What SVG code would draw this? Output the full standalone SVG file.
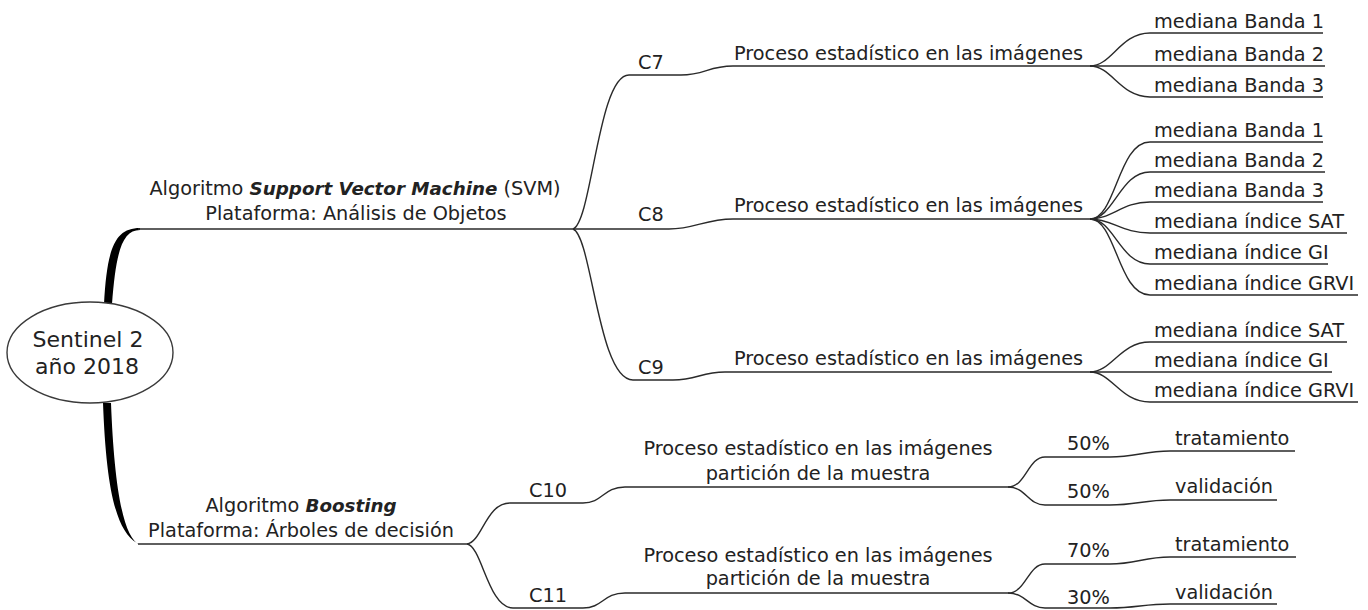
<svg xmlns="http://www.w3.org/2000/svg" width="1368" height="610" viewBox="0 0 1368 610">
<style>
text{font-family:"DejaVu Sans",Verdana,sans-serif;font-size:19.3px;fill:#222}
.c{text-anchor:middle}
.big{font-size:22px}
.bi{font-weight:bold;font-style:italic;font-size:18.3px}
.ln{fill:none;stroke:#2a2a2a;stroke-width:1.4}
.trunk{fill:#000;stroke:none}
</style>
<rect width="1368" height="610" fill="#fff"/>
<g id="connectors">
<path class="trunk" d="M104,304 C107,250 114,228 140,228 L140,230 C122,230 116,252 112,304 Z"/>
<path class="trunk" d="M103,403 C106,480 114,530 137,543 L140,545 C122,538 114,480 111,403 Z"/>
<path class="ln" d="M138,229 L573,229"/>
<path class="ln" d="M138,544 L467,544"/>
<path class="ln" d="M573,229 C592,222 598,75 629,75 L681,75 C705,75 708,66 733,66 L1090,66"/>
<path class="ln" d="M573,229 L669,229 C695,229 705,219 733,219 L1090,219"/>
<path class="ln" d="M573,229 C592,236 598,380 633,380 L673,380 C697,380 701,372 725,372 L1090,372"/>
<path class="ln" d="M467,544 C482,542 486,503 510,503 L583,503 C603,503 603,487 625,487 L1008,487"/>
<path class="ln" d="M467,544 C482,546 488,608 513,608 L583,608 C603,608 603,593 625,593 L1008,593"/>
<path class="ln" d="M1090,66 C1112,66 1120,33 1150,33 L1323,33"/>
<path class="ln" d="M1090,66 L1325,66"/>
<path class="ln" d="M1090,66 C1112,66 1120,97 1150,97 L1323,97"/>
<path class="ln" d="M1090,219 C1116,219 1118,142 1150,142 L1323,142"/>
<path class="ln" d="M1090,219 C1114,219 1120,172 1150,172 L1325,172"/>
<path class="ln" d="M1090,219 C1112,219 1122,202 1150,202 L1323,202"/>
<path class="ln" d="M1090,219 C1112,219 1122,233 1150,233 L1347,233"/>
<path class="ln" d="M1090,219 C1114,219 1120,264 1150,264 L1328,264"/>
<path class="ln" d="M1090,219 C1116,219 1118,295 1150,295 L1358,295"/>
<path class="ln" d="M1090,372 C1112,372 1120,342 1150,342 L1347,342"/>
<path class="ln" d="M1090,372 L1332,372"/>
<path class="ln" d="M1090,372 C1112,372 1120,402 1150,402 L1358,402"/>
<path class="ln" d="M1008,487 C1026,487 1028,457 1045,457 L1110,457 C1136,457 1144,451 1170,451 L1295,451"/>
<path class="ln" d="M1008,487 C1026,487 1028,505 1045,505 L1110,505 C1136,505 1144,500 1170,500 L1277,500"/>
<path class="ln" d="M1008,593 C1026,593 1028,564 1045,564 L1110,564 C1136,564 1144,557 1170,557 L1296,557"/>
<path class="ln" d="M1008,593 C1026,593 1028,608 1045,608 L1110,608 C1136,608 1144,604 1170,604 L1277,604"/>
</g>
<g id="root">
<ellipse cx="90" cy="352.5" rx="83" ry="50.5" fill="#fff" stroke="#3a3a3a" stroke-width="1.4"/>
<text class="c big" x="88" y="347">Sentinel 2</text>
<text class="c big" x="87" y="374">año 2018</text>
</g>
<g id="svm">
<text class="c" x="355" y="195">Algoritmo <tspan class="bi">Support Vector Machine</tspan> (SVM)</text>
<text class="c" x="356" y="220">Plataforma: Análisis de Objetos</text>
</g>
<g id="boosting">
<text class="c" x="301" y="512">Algoritmo <tspan class="bi">Boosting</tspan></text>
<text class="c" x="301" y="537">Plataforma: Árboles de decisión</text>
</g>
<g id="c7"><text x="638" y="69">C7</text></g>
<g id="c8"><text x="638" y="221">C8</text></g>
<g id="c9"><text x="638" y="374">C9</text></g>
<g id="c10"><text x="529" y="497">C10</text></g>
<g id="c11"><text x="529" y="602">C11</text></g>
<g id="p7"><text x="734" y="60">Proceso estadístico en las imágenes</text></g>
<g id="p8"><text x="734" y="212">Proceso estadístico en las imágenes</text></g>
<g id="p9"><text x="734" y="365">Proceso estadístico en las imágenes</text></g>
<g id="p10">
<text class="c" x="818" y="455">Proceso estadístico en las imágenes</text>
<text class="c" x="818" y="480">partición de la muestra</text>
</g>
<g id="p11">
<text class="c" x="818" y="562">Proceso estadístico en las imágenes</text>
<text class="c" x="818" y="585">partición de la muestra</text>
</g>
<g id="m7">
<text x="1154" y="28">mediana Banda 1</text>
<text x="1154" y="61">mediana Banda 2</text>
<text x="1154" y="92">mediana Banda 3</text>
</g>
<g id="m8">
<text x="1154" y="137">mediana Banda 1</text>
<text x="1154" y="167">mediana Banda 2</text>
<text x="1154" y="197">mediana Banda 3</text>
<text x="1154" y="228">mediana índice SAT</text>
<text x="1154" y="259">mediana índice GI</text>
<text x="1154" y="290">mediana índice GRVI</text>
</g>
<g id="m9">
<text x="1154" y="337">mediana índice SAT</text>
<text x="1154" y="367">mediana índice GI</text>
<text x="1154" y="397">mediana índice GRVI</text>
</g>
<g id="s10">
<text x="1067" y="450">50%</text>
<text x="1175" y="445">tratamiento</text>
<text x="1067" y="498">50%</text>
<text x="1175" y="493">validación</text>
</g>
<g id="s11">
<text x="1067" y="557">70%</text>
<text x="1175" y="551">tratamiento</text>
<text x="1067" y="604">30%</text>
<text x="1175" y="599">validación</text>
</g>
</svg>
